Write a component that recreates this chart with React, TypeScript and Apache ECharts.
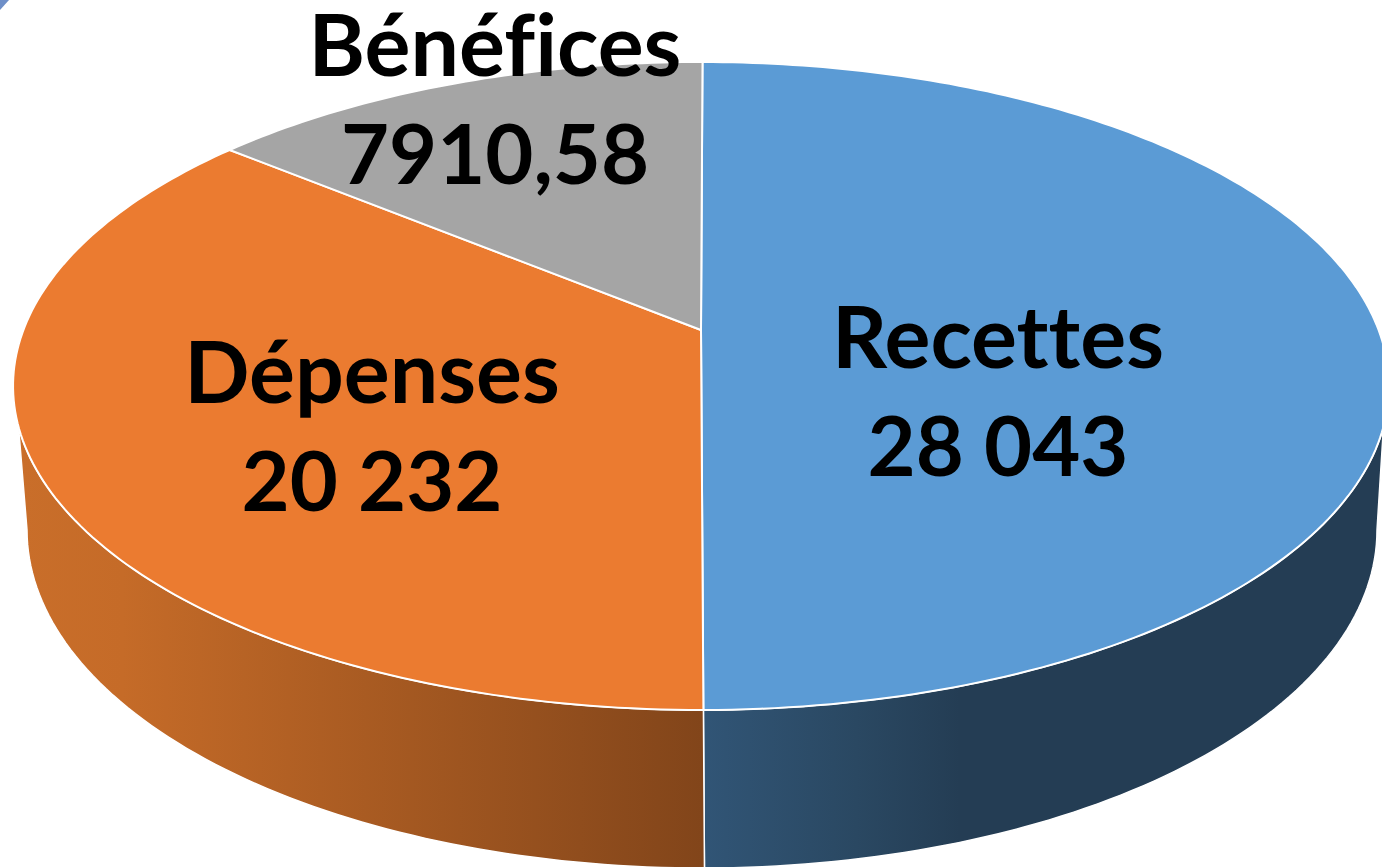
import React, { useEffect, useRef } from "react";
import * as echarts from "echarts";

const categories = ["Recettes", "Dépenses", "Bénéfices"];
const seriesValues = [28043, 20232, 7910.58];
const valueLabels = ["28 043", "20 232", "7910,58"];

// Styling and layout, separate from the data
const faceColors = ["#5B9BD5", "#EB7B30", "#A5A5A5"];
const wallStops = [
  [[0, "#315576"], [0.6, "#2A4862"], [1, "#243D54"]],
  [[0, "#C96E2A"], [0.15, "#C56B28"], [1, "#82451A"]],
  [[0, "#777777"], [1, "#777777"]],
];
const wallSpans = [[702, 960], [20, 702], [0, 1]];
const labelAnchors = [[998, 334], [372, 369], [495, 42]];
const LINE_GAP = 110;
const NAME_FONT = 'bold 86px Lato, "Noto Sans", sans-serif';
const VALUE_FONT = 'bold 83px Lato, "Noto Sans", sans-serif';

// Perspective projection of the disc (0 deg at top, clockwise)
const CX = 701;
const APEX_Y = 330;
const K = 677.6;
const B = 257.3;
const C = -0.1728;
const FIRST_ANGLE = 0.15;
// Lower rim of the wall
const LOW_CX = 702;
const LOW_CY = 530;
const LOW_RX = 675;
const LOW_RY = 338;
const RIM_LIMIT = 107;

const rad = (d: number) => (d * Math.PI) / 180;

function topPoint(deg: number) {
  const x = Math.sin(rad(deg));
  const y = -Math.cos(rad(deg));
  const w = 1 + C * y;
  return [CX + (K * x) / w, (APEX_Y + B * y) / w];
}

function lowPoint(deg: number) {
  const phi = 180 + ((deg - 180) * 90) / (180 - RIM_LIMIT);
  return [LOW_CX + LOW_RX * Math.sin(rad(phi)), LOW_CY - LOW_RY * Math.cos(rad(phi))];
}

function sweep(a: number, b: number, fn: (d: number) => number[]) {
  const n = Math.max(2, Math.ceil(Math.abs(b - a)));
  const pts: number[][] = [];
  for (let i = 0; i <= n; i++) pts.push(fn(a + ((b - a) * i) / n));
  return pts;
}

const total = seriesValues.reduce((s, v) => s + v, 0);

function renderItem(params: any, api: any) {
  const i = params.dataIndex;
  const before = seriesValues.slice(0, i).reduce((s, v) => s + v, 0);
  const start = FIRST_ANGLE + (before / total) * 360;
  const end = start + (Number(api.value(0)) / total) * 360;
  const children: any[] = [];

  const wallA = Math.max(start, RIM_LIMIT);
  const wallB = Math.min(end, 360 - RIM_LIMIT);
  if (wallB > wallA) {
    const outline = [...sweep(wallA, wallB, topPoint), ...sweep(wallB, wallA, lowPoint)];
    children.push({
      type: "polygon",
      z2: 1,
      shape: { points: outline },
      style: {
        fill: {
          type: "linear",
          global: true,
          x: wallSpans[i][0],
          y: 0,
          x2: wallSpans[i][1],
          y2: 0,
          colorStops: wallStops[i].map(([offset, color]) => ({ offset, color })),
        },
        stroke: "#FFFFFF",
        lineWidth: 1.5,
      },
    });
  }

  children.push({
    type: "polygon",
    z2: 2,
    shape: { points: [[CX, APEX_Y], ...sweep(start, end, topPoint)] },
    style: { fill: faceColors[i], stroke: "#FFFFFF", lineWidth: 2 },
  });

  [categories[i], valueLabels[i]].forEach((text, line) => {
    children.push({
      type: "text",
      z2: 5,
      x: labelAnchors[i][0],
      y: labelAnchors[i][1] + line * LINE_GAP,
      style: {
        text,
        fill: "#000000",
        font: line === 0 ? NAME_FONT : VALUE_FONT,
        align: "center",
        verticalAlign: "middle",
      },
    });
  });

  return { type: "group", children };
}

export default function App() {
  const ref = useRef<HTMLDivElement>(null);
  useEffect(() => {
    document.body.style.margin = "0";
    document.body.style.overflow = "hidden";
    const chart = echarts.init(ref.current!, undefined, { renderer: "svg" });
    chart.setOption({
      animation: false,
      backgroundColor: "#FFFFFF",
      graphic: [
        {
          type: "polygon",
          shape: { points: [[0, 0], [9, 0], [0, 10]] },
          style: { fill: "#6E8FC8" },
        },
      ],
      series: [
        {
          type: "custom",
          coordinateSystem: "none",
          silent: true,
          renderItem,
          data: seriesValues.map((v, i) => ({ name: categories[i], value: [v] })),
        },
      ],
    });
    return () => chart.dispose();
  }, []);
  return (
    <>
      <style>{"svg text { font-variant-ligatures: none !important; }"}</style>
      <div ref={ref} style={{ position: "absolute", left: 0, top: 0, width: 1382, height: 867 }} />
    </>
  );
}
